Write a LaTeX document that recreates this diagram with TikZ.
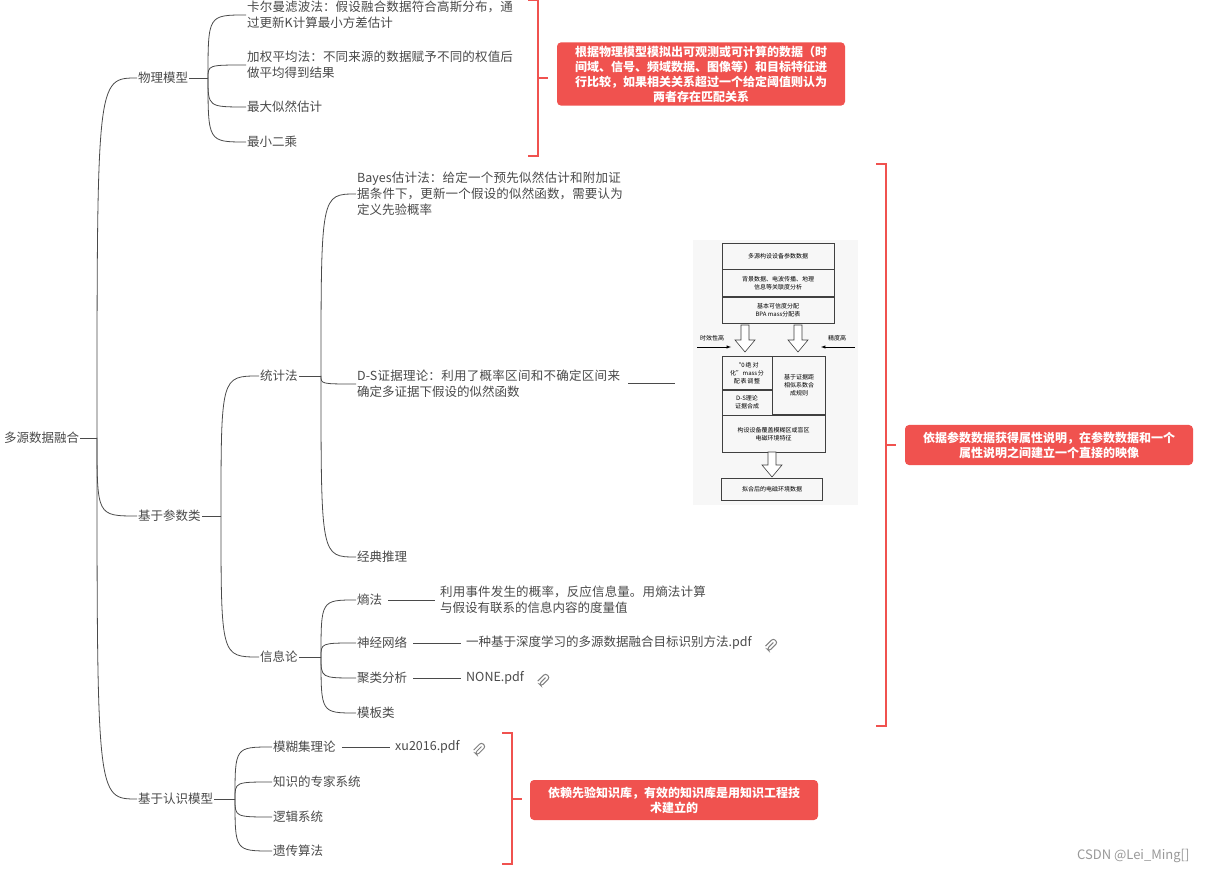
\documentclass[tikz,border=0pt]{standalone}
\usepackage{fontspec}
\setmainfont{Noto Sans CJK SC}
\XeTeXlinebreaklocale "zh"
\XeTeXlinebreakskip=0pt plus 1pt
\usetikzlibrary{positioning,calc}
\definecolor{calloutred}{HTML}{F0524F}
\definecolor{branchgray}{HTML}{4A4A4A}
\tikzset{
  topic/.style={anchor=west, inner sep=1pt, font=\fontsize{12.5}{16}\selectfont, text=branchgray},
  wrapped/.style={topic, text width=270pt, align=left},
  branch/.style={draw=branchgray, line width=0.8pt},
  brace/.style={draw=calloutred, line width=1.2pt},
  callout/.style={fill=calloutred, rounded corners=4pt, text=white, font=\bfseries\fontsize{12}{15}\selectfont, align=center, minimum width=288pt, minimum height=40pt},
  fig/.style={draw=black!75, line width=0.5pt, font=\fontsize{6}{8}\selectfont, align=center, inner sep=1pt},
  hollow/.style={draw=black!75, fill=white, line width=0.6pt},
  clip icon/.style={draw=gray, line width=1pt, rounded corners=2.5pt}
}
\newcommand\curvelink[2]{\draw[branch] (#1) .. controls (#1|-#2) .. (#2);}
\newcommand\hollowdown[3]{% x, top, bottom
  \draw[hollow] (#1-4,#2) -- (#1+4,#2) -- (#1+4,#3-12) -- (#1+10,#3-12) -- (#1,#3) -- (#1-10,#3-12) -- (#1-4,#3-12) -- cycle;}
\newcommand\paperclip[1]{\begin{scope}[shift={(#1)}, rotate=-45]
  \draw[clip icon] (-3,6) -- (-3,-5) -- (3,-5) -- (3,7) -- (0,7) -- (0,-2);
  \end{scope}}
\begin{document}
\begin{tikzpicture}[x=1pt,y=-1pt]
  \useasboundingbox (0,0) rectangle (1205,874);
  \fill[white] (0,0) rectangle (1205,874);

  % root and main branches
  \node[topic] (root) at (3,438) {多源数据融合};
  \coordinate (rootb) at (97,438);
  \draw[branch] (root.east) -- (rootb);
  \node[topic] (phys) at (137,78) {物理模型};
  \node[topic] (param) at (137,516) {基于参数类};
  \node[topic] (cogn) at (137,799) {基于认识模型};
  \foreach \n in {phys,param,cogn} {\curvelink{rootb}{\n.west}}

  % physical model
  \coordinate (physb) at (208,78);
  \draw[branch] (phys.east) -- (physb);
  \node[wrapped] (kalman) at (246,15) {卡尔曼滤波法：假设融合数据符合高斯分布，通过更新K计算最小方差估计};
  \node[wrapped] (wavg) at (246,65) {加权平均法：不同来源的数据赋予不同的权值后做平均得到结果};
  \node[topic] (mle) at (246,107) {最大似然估计};
  \node[topic] (lsq) at (246,142) {最小二乘};
  \foreach \n in {kalman,wavg,mle,lsq} {\curvelink{physb}{\n.west}}

  % parameter based
  \coordinate (paramb) at (221,516);
  \draw[branch] (param.east) -- (paramb);
  \node[topic] (stat) at (259,376) {统计法};
  \node[topic] (info) at (259,657) {信息论};
  \foreach \n in {stat,info} {\curvelink{paramb}{\n.west}}

  \coordinate (statb) at (321,376);
  \draw[branch] (stat.east) -- (statb);
  \node[wrapped] (bayes) at (356,194) {Bayes估计法：给定一个预先似然估计和附加证据条件下，更新一个假设的似然函数，需要认为定义先验概率};
  \node[wrapped] (ds) at (356,384) {D-S证据理论：利用了概率区间和不确定区间来确定多证据下假设的似然函数};
  \node[topic] (classic) at (356,557) {经典推理};
  \foreach \n in {bayes,ds,classic} {\curvelink{statb}{\n.west}}
  \coordinate (dsend) at (675,383);
  \draw[branch] (628,383) -- (dsend);

  \coordinate (infob) at (321,657);
  \draw[branch] (info.east) -- (infob);
  \node[topic] (entropy) at (356,600) {熵法};
  \node[topic] (neural) at (356,643) {神经网络};
  \node[topic] (cluster) at (356,678) {聚类分析};
  \node[topic] (templ) at (356,713) {模板类};
  \foreach \n in {entropy,neural,cluster,templ} {\curvelink{infob}{\n.west}}
  \node[wrapped] (entropyd) at (439,600) {利用事件发生的概率，反应信息量。用熵法计算与假设有联系的信息内容的度量值};
  \node[topic] (neuralf) at (465,643) {一种基于深度学习的多源数据融合目标识别方法.pdf};
  \node[topic] (clusterf) at (465,678) {NONE.pdf};
  \draw[branch] ($(entropy.east)+(5,0)$) -- ($(entropyd.west)+(-4,0)$);
  \draw[branch] ($(neural.east)+(5,0)$) -- ($(neuralf.west)+(-4,0)$);
  \draw[branch] ($(cluster.east)+(5,0)$) -- ($(clusterf.west)+(-4,0)$);
  \paperclip{$(neuralf.east)+(19,1)$}
  \paperclip{$(clusterf.east)+(19,1)$}

  % cognition model
  \coordinate (cognb) at (235,799);
  \draw[branch] (cogn.east) -- (cognb);
  \node[topic] (fuzzy) at (272,747) {模糊集理论};
  \node[topic] (expert) at (272,782) {知识的专家系统};
  \node[topic] (logic) at (272,817) {逻辑系统};
  \node[topic] (genetic) at (272,851) {遗传算法};
  \foreach \n in {fuzzy,expert,logic,genetic} {\curvelink{cognb}{\n.west}}
  \node[topic] (fuzzyf) at (394,747) {xu2016.pdf};
  \draw[branch] ($(fuzzy.east)+(5,0)$) -- ($(fuzzyf.west)+(-4,0)$);
  \paperclip{$(fuzzyf.east)+(19,1)$}

  % summary braces and callouts
  \draw[brace] (528,0) -- (538,0) -- (538,156) -- (528,156);
  \draw[brace] (538,78) -- (548,78);
  \node[callout] (c1) at (701,74) {根据物理模型模拟出可观测或可计算的数据（时\\间域、信号、频域数据、图像等）和目标特征进\\行比较，如果相关关系超过一个给定阈值则认为\\两者存在匹配关系};
  \draw[brace] (876,164) -- (886,164) -- (886,726) -- (876,726);
  \draw[brace] (886,445) -- (896,445);
  \node[callout] (c2) at (1049,445) {依据参数数据获得属性说明，在参数数据和一个\\属性说明之间建立一个直接的映像};
  \draw[brace] (502,733) -- (512,733) -- (512,864) -- (502,864);
  \draw[brace] (512,799) -- (522,799);
  \node[callout] (c3) at (674,800) {依赖先验知识库，有效的知识库是用知识工程技\\术建立的};

  % embedded flow figure
  \fill[black!3] (693,240) rectangle (858,505);
  \node[fig, minimum width=112pt, minimum height=26pt] (f1) at (778,256) {多源构设设备参数数据};
  \node[fig, minimum width=112pt, minimum height=27pt, below=0pt of f1] (f2) {背景数据、电波传播、地理\\信息等关联度分析};
  \node[fig, minimum width=112pt, minimum height=26pt, below=0pt of f2] (f3) {基本可信度分配\\BPA mass分配表};
  \node[fig, text width=46pt, minimum width=50pt, minimum height=33pt] (f4) at (747,373) {“0绝对\\化”mass分\\配表调整};
  \node[fig, minimum width=50pt, minimum height=25pt, below=0pt of f4] (f5) {D-S理论\\证据合成};
  \node[fig, minimum width=53pt, minimum height=58pt, anchor=north west] (f6) at (f4.north east) {基于证据距\\相似系数合\\成规则};
  \node[fig, minimum width=103pt, minimum height=37pt, anchor=north west] (f7) at (f5.south west) {构设设备覆盖模糊区或盲区\\电磁环境特征};
  \node[fig, minimum width=101pt, minimum height=22pt] (f8) at (772,489) {拟合后的电磁环境数据};
  \hollowdown{745}{325}{352}
  \hollowdown{798}{325}{352}
  \hollowdown{772}{452}{477}
  \node[font=\fontsize{6}{8}\selectfont] (early) at (712,338) {时效性高};
  \node[font=\fontsize{6}{8}\selectfont] (exact) at (837,338) {精度高};
  \coordinate (earlyend) at (731,347);
  \coordinate (exactend) at (821,347);
  \draw[-latex, line width=0.5pt] (697,347) -- (earlyend);
  \draw[-latex, line width=0.5pt] (855,347) -- (exactend);

  \node[anchor=east, text=black!40, font=\fontsize{13}{15}\selectfont] (mark) at (1193,856) {CSDN @Lei\_Ming[]};
\end{tikzpicture}
\end{document}
